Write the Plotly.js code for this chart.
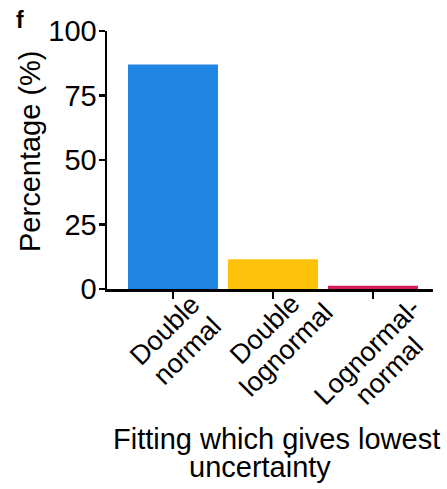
<!DOCTYPE html>
<html>
<head>
<meta charset="utf-8">
<script src="https://cdn.plot.ly/plotly-3.0.1.min.js"></script>
<style>
html,body{margin:0;padding:0;background:#fff;}
#chart{width:447px;height:489px;}
</style>
</head>
<body>
<div id="chart"></div>
<script>
// ---- data ----
const categories = ["Double normal", "Double lognormal", "Lognormal-normal"];
const categoryLines = [["Double", "normal"], ["Double", "lognormal"], ["Lognormal-", "normal"]];
const percentages = [87, 11.5, 1.3];
const barColors = ["#2086E3", "#FFC20A", "#D41C5E"];
const yTickVals = [0, 25, 50, 75, 100];
const xTitleLines = ["Fitting which gives lowest", "uncertainty"];
const yTitle = "Percentage (%)";
const panelLabel = "f";

// ---- layout geometry ----
const W = 447, H = 489;
const M = {l: 107, r: 14, t: 31, b: 200};
const PW = W - M.l - M.r, PH = H - M.t - M.b;
const px2x = px => (px - M.l) / PW;
const py2y = py => 1 - (py - M.t) / PH;

const fontFam = "Liberation Sans, Arial, sans-serif";
const black = "#000";

const trace = {
  type: "bar",
  x: categories.map((c, i) => i),
  y: percentages,
  width: 0.9,
  marker: {color: barColors, line: {width: 0}},
  hoverinfo: "none"
};

// per-line offsets (pixels) of rotated category labels relative to the tick
const lineOffsets = [
  [[-8, 41], [14, 62]],
  [[-8, 40], [13, 61]],
  [[-6, 63], [16, 82]]
];

const annotations = [];
categoryLines.forEach((lines, i) => {
  lines.forEach((t, j) => {
    annotations.push({
      text: t, xref: "x", yref: "y", x: i, y: 0,
      xanchor: "center", yanchor: "middle", textangle: -45,
      xshift: lineOffsets[i][j][0], yshift: -lineOffsets[i][j][1],
      showarrow: false,
      font: {size: 27, family: fontFam, color: black}
    });
  });
});

// x-axis title (two lines)
const xTitlePos = [[276, 439], [260, 467]];
xTitleLines.forEach((t, j) => {
  annotations.push({
    text: t, xref: "paper", yref: "paper",
    x: px2x(xTitlePos[j][0]), y: py2y(xTitlePos[j][1]),
    xanchor: "center", yanchor: "middle", showarrow: false,
    font: {size: 29, family: fontFam, color: black}
  });
});

// y-axis title
annotations.push({
  text: yTitle, xref: "paper", yref: "paper",
  x: px2x(30), y: py2y(151), xanchor: "center", yanchor: "middle",
  textangle: -90, showarrow: false,
  font: {size: 29, family: fontFam, color: black}
});

// panel label
annotations.push({
  text: "<b>" + panelLabel + "</b>", xref: "paper", yref: "paper",
  x: px2x(19.5), y: py2y(20.5), xanchor: "center", yanchor: "middle", showarrow: false,
  font: {size: 23, family: fontFam, color: black}
});

const layout = {
  width: W,
  height: H,
  margin: M,
  paper_bgcolor: "#fff",
  plot_bgcolor: "#fff",
  showlegend: false,
  font: {family: fontFam, color: black},
  xaxis: {
    range: [-0.66, 2.6],
    tickvals: categories.map((c, i) => i),
    showticklabels: false,
    ticks: "outside",
    ticklen: 7,
    tickwidth: 2.5,
    tickcolor: black,
    showline: true,
    linecolor: black,
    linewidth: 2.5,
    showgrid: false,
    zeroline: false,
    fixedrange: true
  },
  yaxis: {
    range: [0, 100],
    tickvals: yTickVals,
    ticks: "outside",
    ticklen: 6,
    tickwidth: 2.5,
    tickcolor: black,
    showline: true,
    linecolor: black,
    linewidth: 2.5,
    showgrid: false,
    zeroline: false,
    ticklabelstandoff: -4,
    tickfont: {size: 29, family: fontFam, color: black},
    fixedrange: true
  },
  annotations: annotations
};

Plotly.newPlot("chart", [trace], layout, {displayModeBar: false, staticPlot: true});
</script>
</body>
</html>
